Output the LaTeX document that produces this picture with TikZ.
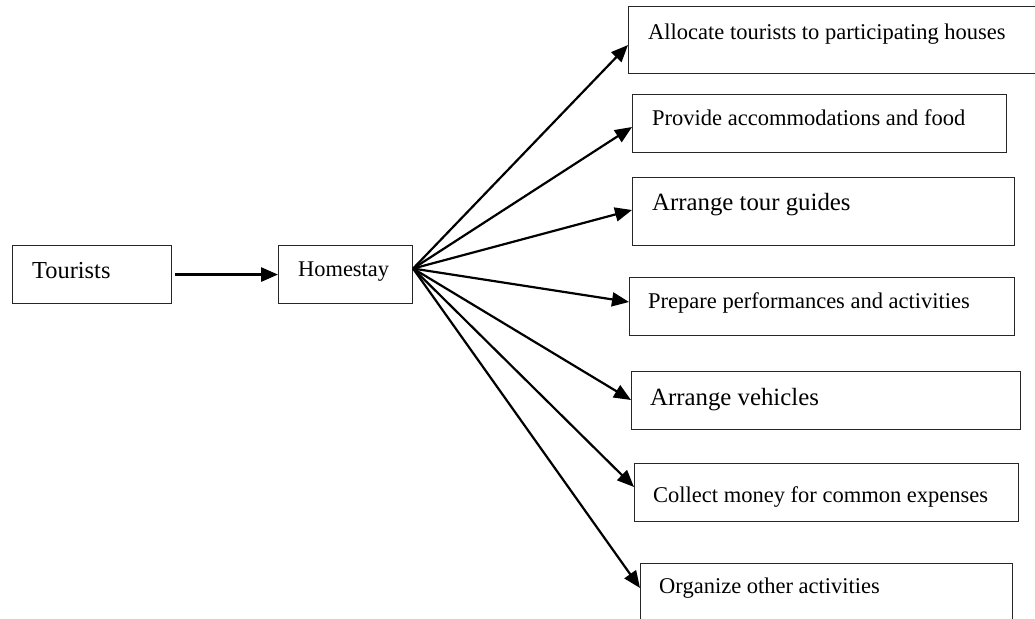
\documentclass[tikz,border=0pt]{standalone}
\usepackage{fontspec}
\setmainfont{Liberation Serif}
\usetikzlibrary{arrows.meta}
\begin{document}
\begin{tikzpicture}[x=1pt,y=-1pt,
  frame/.style={draw=black!85, line width=1.1pt, rectangle, inner sep=0pt, anchor=north west},
  lbl/.style={inner sep=0pt, anchor=base west, font=\fontsize{22.5}{27}\selectfont},
  biglbl/.style={lbl, font=\fontsize{24.8}{30}\selectfont},
  link/.style={line width=2.2pt, -{Triangle[length=17pt,width=14pt]}}]
\useasboundingbox (0,0) rectangle (1035,618);
\clip (0,0) rectangle (1035,618);
\fill[white] (0,0) rectangle (1035,618);

% left chain
\node[frame, minimum width=159pt, minimum height=58pt] (T) at (12,245) {};
\node[lbl, font=\fontsize{24.4}{29}\selectfont] (tT) at (32,278) {Tourists};
\node[frame, minimum width=134pt, minimum height=58pt] (H) at (278,245) {};
\node[lbl, font=\fontsize{22.4}{27}\selectfont] (tH) at (298,276) {Homestay};

% task boxes
\node[frame, minimum width=420pt, minimum height=67pt] (b1) at (628,6) {};
\node[lbl] (t1) at (648,40) {Allocate tourists to participating houses};
\node[frame, minimum width=374pt, minimum height=58pt] (b2) at (632,94) {};
\node[lbl] (t2) at (652,125) {Provide accommodations and food};
\node[frame, minimum width=382pt, minimum height=68pt] (b3) at (632,177) {};
\node[biglbl] (t3) at (652,210) {Arrange tour guides};
\node[frame, minimum width=385pt, minimum height=58pt] (b4) at (629,277) {};
\node[lbl] (t4) at (648,308) {Prepare performances and activities};
\node[frame, minimum width=389pt, minimum height=58pt] (b5) at (631,371) {};
\node[biglbl] (t5) at (650,405) {Arrange vehicles};
\node[frame, minimum width=384pt, minimum height=58pt] (b6) at (634,463) {};
\node[lbl] (t6) at (653,502) {Collect money for common expenses};
\node[frame, minimum width=372pt, minimum height=80pt] (b7) at (640,563) {};
\node[lbl] (t7) at (659,593) {Organize other activities};

% connectors
\draw[link, line width=2.8pt] ([xshift=3pt]T.east) -- (H.west);
\coordinate (src) at ([yshift=6pt]H.east);
\draw[link] (src) -- ([yshift=-39pt]b1.north west);
\draw[link] (src) -- ([yshift=-33pt]b2.north west);
\draw[link] (src) -- ([yshift=-33pt]b3.north west);
\draw[link] (src) -- ([yshift=-25pt]b4.north west);
\draw[link] (src) -- ([yshift=-29pt]b5.north west);
\draw[link] (src) -- ([yshift=-24pt]b6.north west);
\draw[link] (src) -- ([yshift=-25pt]b7.north west);
\end{tikzpicture}
\end{document}
